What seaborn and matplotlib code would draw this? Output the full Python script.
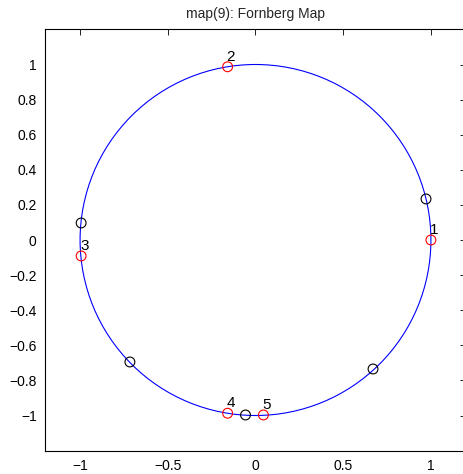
import matplotlib
matplotlib.use("Agg")
import matplotlib.pyplot as plt
from matplotlib.patches import Circle
import seaborn as sns
import pandas as pd

title = "map(9): Fornberg Map"

# unit circle
circle_center = (0.0, 0.0)
circle_radius = 1.0

# red (labelled) points
red_x = [1.0, -0.159, -0.994, -0.159, 0.045]
red_y = [0.0, 0.987, -0.091, -0.987, -0.997]
red_labels = ["1", "2", "3", "4", "5"]

# black points
black_x = [0.972, -0.994, -0.716, -0.057, 0.670]
black_y = [0.234, 0.097, -0.695, -0.997, -0.735]

x_ticks = [-1, -0.5, 0, 0.5, 1]
y_ticks = [-1, -0.8, -0.6, -0.4, -0.2, 0, 0.2, 0.4, 0.6, 0.8, 1]

sns.set_theme(style="white")
plt.rcParams["font.family"] = ["Liberation Sans", "DejaVu Sans"]

fig = plt.figure(figsize=(4.63, 4.74), dpi=100)
ax = fig.add_axes([45 / 463, (474 - 450.6) / 474, 421 / 463, 421.2 / 474])

ax.add_patch(Circle(circle_center, circle_radius, fill=False, edgecolor="blue", linewidth=0.8))

red_df = pd.DataFrame({"x": red_x, "y": red_y})
black_df = pd.DataFrame({"x": black_x, "y": black_y})
sns.scatterplot(data=black_df, x="x", y="y", ax=ax, marker="o", s=50,
                facecolors="none", edgecolors="black", linewidth=0.8, zorder=3)
sns.scatterplot(data=red_df, x="x", y="y", ax=ax, marker="o", s=50,
                facecolors="none", edgecolors="red", linewidth=0.8, zorder=3)

for xx, yy, lab in zip(red_x, red_y, red_labels):
    ax.text(xx - 0.005, yy + 0.018, lab, ha="left", va="bottom", fontsize=11, color="black")

ax.set_xlim(-1.2, 1.2)
ax.set_ylim(-1.2, 1.2)
ax.set_xticks(x_ticks)
ax.set_xticklabels(["\u22121", "\u22120.5", "0", "0.5", "1"])
ax.set_yticks(y_ticks)
ax.set_yticklabels([("\u2212" + f"{abs(v):g}") if v < 0 else f"{v:g}" for v in y_ticks])
ax.set_xlabel("")
ax.set_ylabel("")
ax.tick_params(direction="in", top=True, right=True, length=4, width=0.6,
               labelsize=10, colors="black", pad=6)
for s in ax.spines.values():
    s.set_visible(True)
    s.set_color("black")
    s.set_linewidth(0.8)
ax.set_title(title, fontsize=10, pad=8)

fig.savefig("out.png", dpi=100)
